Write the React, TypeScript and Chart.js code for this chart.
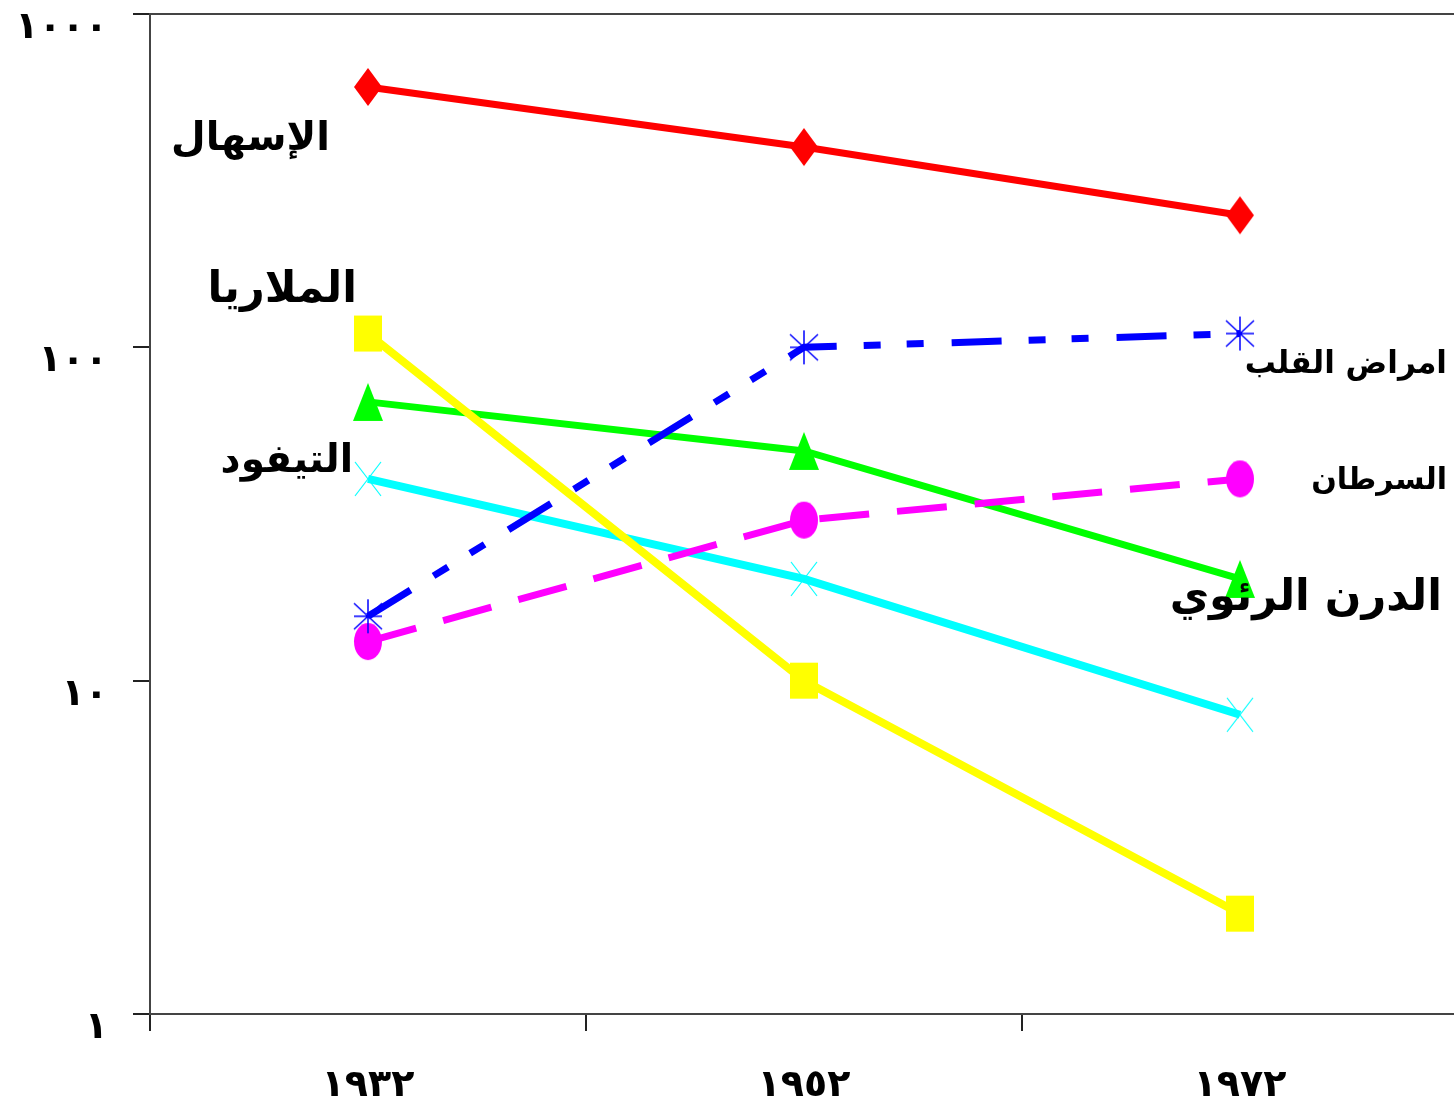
import React, { useEffect, useRef } from 'react';
import { Chart, registerables } from 'chart.js';

Chart.register(...registerables);

// ---- data ----
const categories = ['١٩٣٢', '١٩٥٢', '١٩٧٢'];
const yTickValues = [1, 10, 100, 1000];
const yTickLabels = ['١', '١٠', '١٠٠', '١٠٠٠'];

const seriesNames = ['الإسهال', 'الملاريا', 'امراض القلب', 'الدرن الرئوي', 'التيفود', 'السرطان'];
const diarrhea = [604, 399, 249];
const malaria = [110, 10, 2.0];
const heartDisease = [15.6, 100, 110];
const tuberculosis = [68.6, 48.9, 20.2];
const typhoid = [40.3, 20.2, 7.9];
const cancer = [13.1, 30.3, 40.3];

const FONT = "'DejaVu Sans', 'Liberation Sans', sans-serif";

function makeMarker(kind: string, color: string, w: number, h: number): HTMLCanvasElement {
  const pad = 2;
  const c = document.createElement('canvas');
  c.width = w + pad * 2;
  c.height = h + pad * 2;
  const ctx = c.getContext('2d')!;
  const cx = c.width / 2;
  const cy = c.height / 2;
  ctx.fillStyle = color;
  ctx.strokeStyle = color;
  ctx.beginPath();
  if (kind === 'diamond') {
    ctx.moveTo(cx, cy - h / 2);
    ctx.lineTo(cx + w / 2, cy);
    ctx.lineTo(cx, cy + h / 2);
    ctx.lineTo(cx - w / 2, cy);
    ctx.closePath();
    ctx.fill();
  } else if (kind === 'square') {
    ctx.rect(cx - w / 2, cy - h / 2, w, h);
    ctx.fill();
  } else if (kind === 'triangle') {
    ctx.moveTo(cx, cy - h / 2);
    ctx.lineTo(cx + w / 2, cy + h / 2);
    ctx.lineTo(cx - w / 2, cy + h / 2);
    ctx.closePath();
    ctx.fill();
  } else if (kind === 'ellipse') {
    ctx.ellipse(cx, cy, w / 2, h / 2, 0, 0, Math.PI * 2);
    ctx.fill();
  } else if (kind === 'asterisk') {
    ctx.lineWidth = 1.5;
    ctx.moveTo(cx, cy - h / 2);
    ctx.lineTo(cx, cy + h / 2);
    ctx.moveTo(cx - w / 2, cy - h / 2 + 4);
    ctx.lineTo(cx + w / 2, cy + h / 2 - 4);
    ctx.moveTo(cx + w / 2, cy - h / 2 + 4);
    ctx.lineTo(cx - w / 2, cy + h / 2 - 4);
    ctx.moveTo(cx - w / 2, cy);
    ctx.lineTo(cx + w / 2, cy);
    ctx.stroke();
  } else if (kind === 'cross') {
    ctx.lineWidth = 1.2;
    ctx.moveTo(cx - w / 2, cy - h / 2);
    ctx.lineTo(cx + w / 2, cy + h / 2);
    ctx.moveTo(cx + w / 2, cy - h / 2);
    ctx.lineTo(cx - w / 2, cy + h / 2);
    ctx.stroke();
  }
  return c;
}

const annotationPlugin = {
  id: 'seriesLabels',
  afterDatasetsDraw(chart: any) {
    const ctx = chart.ctx;
    const items = [
      { text: seriesNames[0], x: 330, y: 150, size: 40 },
      { text: seriesNames[1], x: 357, y: 302, size: 43 },
      { text: seriesNames[4], x: 353, y: 472, size: 39 },
      { text: seriesNames[2], x: 1447, y: 373, size: 31 },
      { text: seriesNames[5], x: 1447, y: 489, size: 30 },
      { text: seriesNames[3], x: 1442, y: 610, size: 43 },
    ];
    ctx.save();
    ctx.fillStyle = '#000';
    ctx.textAlign = 'right';
    ctx.textBaseline = 'alphabetic';
    for (const it of items) {
      ctx.font = `bold ${it.size}px ${FONT}`;
      ctx.fillText(it.text, it.x, it.y);
    }
    ctx.restore();
  },
};

export default function App() {
  const ref = useRef<HTMLCanvasElement>(null);

  useEffect(() => {
    document.body.style.margin = '0';
    document.body.style.overflow = 'hidden';
    const canvas = ref.current!;
    const chart = new Chart(canvas, {
      type: 'line',
      data: {
        labels: categories,
        datasets: [
          {
            label: seriesNames[0],
            data: diarrhea,
            borderColor: '#FF0000',
            borderWidth: 7,
            pointStyle: makeMarker('diamond', '#FF0000', 28, 38) as any,
          },
          {
            label: seriesNames[2],
            data: heartDisease,
            borderColor: '#0000FF',
            borderWidth: 7,
            borderDash: [50, 27, 17, 26, 17, 28],
            pointStyle: makeMarker('asterisk', '#0000FF', 28, 34) as any,
          },
          {
            label: seriesNames[5],
            data: cancer,
            borderColor: '#FF00FF',
            borderWidth: 7,
            borderDash: [50, 28],
            pointStyle: makeMarker('ellipse', '#FF00FF', 28, 37) as any,
          },
          {
            label: seriesNames[1],
            data: malaria,
            borderColor: '#FFFF00',
            borderWidth: 8,
            pointStyle: makeMarker('square', '#FFFF00', 28, 36) as any,
          },
          {
            label: seriesNames[3],
            data: tuberculosis,
            borderColor: '#00FF00',
            borderWidth: 7,
            pointStyle: makeMarker('triangle', '#00FF00', 30, 38) as any,
          },
          {
            label: seriesNames[4],
            data: typhoid,
            borderColor: '#00FFFF',
            borderWidth: 8,
            pointStyle: makeMarker('cross', '#00FFFF', 26, 34) as any,
          },
        ],
      },
      options: {
        animation: false,
        responsive: false,
        events: [],
        layout: { autoPadding: false, padding: { top: 14, right: 0, left: 0, bottom: 0 } },
        elements: { line: { tension: 0, fill: false, borderCapStyle: 'butt' }, point: { radius: 14 } },
        plugins: { legend: { display: false }, tooltip: { enabled: false } },
        scales: {
          x: {
            type: 'category',
            offset: true,
            grid: {
              offset: true,
              drawOnChartArea: false,
              drawTicks: true,
              tickLength: 17,
              color: '#222',
              lineWidth: 2,
            },
            border: { display: true, color: '#444', width: 2 },
            ticks: {
              font: { family: FONT, size: 38, weight: 'bold' },
              color: '#000',
              padding: 32,
              maxRotation: 0,
              autoSkip: false,
            },
            afterFit: (s: any) => {
              s.height = 87;
              s.paddingLeft = 0;
              s.paddingRight = 0;
            },
          },
          y: {
            type: 'logarithmic',
            min: 1,
            max: 1000,
            afterBuildTicks: (s: any) => {
              s.ticks = yTickValues.map((v) => ({ value: v }));
            },
            grid: {
              drawOnChartArea: true,
              drawTicks: true,
              tickLength: 17,
              lineWidth: 2,
              color: (c: any) => (c.tick && c.tick.value === 1000 ? '#444' : 'rgba(0,0,0,0)'),
              tickColor: '#222',
            },
            border: { display: true, color: '#444', width: 2 },
            ticks: {
              font: { family: FONT, size: 38, weight: 'bold' },
              color: '#000',
              padding: 25,
              labelOffset: 14,
              callback: (v: any) => {
                const i = yTickValues.indexOf(Number(v));
                return i >= 0 ? yTickLabels[i] : '';
              },
            },
            afterFit: (s: any) => {
              s.width = 150;
              s.paddingTop = 0;
              s.paddingBottom = 0;
            },
          },
        },
      },
      plugins: [annotationPlugin],
    } as any);
    return () => chart.destroy();
  }, []);

  return (
    <canvas
      ref={ref}
      width={1458}
      height={1101}
      style={{ position: 'absolute', left: 0, top: 0, display: 'block', width: 1458, height: 1101 }}
    />
  );
}
